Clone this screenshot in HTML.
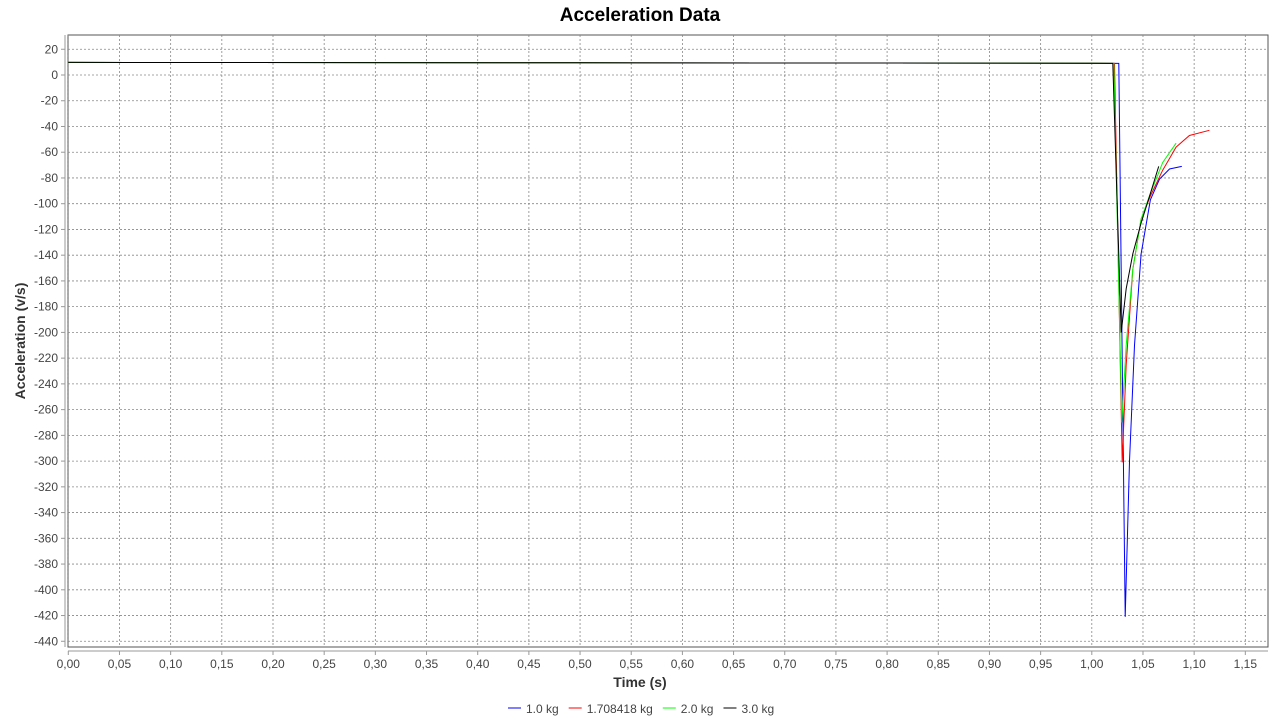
<!DOCTYPE html>
<html><head><meta charset="utf-8"><style>
html,body{margin:0;padding:0;background:#fff;}
svg{display:block;font-family:"Liberation Sans","DejaVu Sans",sans-serif;}
</style></head><body>
<svg id="chart" width="1280" height="720">
<text x="640" y="21" text-anchor="middle" font-size="19" font-weight="bold" fill="#000">Acceleration Data</text>
<rect x="68" y="35" width="1200" height="612" fill="#fff" stroke="#555" stroke-width="1"/>
<g id="grid"></g><g id="axes"></g><g id="series"></g>
<text x="640" y="687" text-anchor="middle" font-size="14" font-weight="bold" fill="#333">Time (s)</text>
<text transform="translate(25,341) rotate(-90)" text-anchor="middle" font-size="14" font-weight="bold" fill="#333">Acceleration (v/s)</text>
<g id="legend"></g>
</svg>
<script>
const seriesNames = ["1.0 kg","1.708418 kg","2.0 kg","3.0 kg"];
const seriesColors = ["#0000ff","#ff0000","#00ff00","#000000"];
const blueT = [0,0.5,1.0,1.0264,1.0326,1.0368,1.0417,1.0482,1.0573,1.0661,1.0759,1.0879];
const blueV = [9.8,9.5,9.2,9,-421,-300,-210,-139,-97,-81,-73,-71];
const redT = [0,0.5,1.0,1.0222,1.0297,1.0336,1.0401,1.0482,1.0573,1.0693,1.0824,1.0954,1.1149];
const redV = [9.8,9.5,9.2,9,-301,-225,-151,-112,-94,-74,-56,-47,-43];
const greenT = [0,0.5,1.0,1.0215,1.0293,1.0336,1.0401,1.0482,1.0573,1.0693,1.0824];
const greenV = [9.8,9.5,9.2,9,-270,-210,-151,-112,-92,-68,-53];
const blackT = [0,0.5,1.0,1.0205,1.0287,1.0336,1.0401,1.0482,1.0573,1.0654];
const blackV = [9.8,9.5,9.2,9,-200,-166,-139,-115,-92,-71];
const xTicks = [0,0.05,0.1,0.15,0.2,0.25,0.3,0.35,0.4,0.45,0.5,0.55,0.6,0.65,0.7,0.75,0.8,0.85,0.9,0.95,1.0,1.05,1.1,1.15];
const yTicks = [20,0,-20,-40,-60,-80,-100,-120,-140,-160,-180,-200,-220,-240,-260,-280,-300,-320,-340,-360,-380,-400,-420,-440];

const NS="http://www.w3.org/2000/svg";
const xs = t => 68.3 + t*1023.5;
const ys = v => 75.0 - v*1.287;
function mk(tag, attrs, parent){const e=document.createElementNS(NS,tag);for(const k in attrs)e.setAttribute(k,attrs[k]);parent.appendChild(e);return e;}
const grid=document.getElementById('grid'), axes=document.getElementById('axes'), ser=document.getElementById('series'), leg=document.getElementById('legend');
mk('line',{x1:65,y1:35,x2:65,y2:647,stroke:'#999'},axes);
mk('line',{x1:68,y1:651,x2:1268,y2:651,stroke:'#999'},axes);
xTicks.forEach(t=>{
  const x=xs(t);
  const g=mk('line',{x1:x,y1:35,x2:x,y2:647,stroke:'#888','stroke-dasharray':'2,2','stroke-width':0.8},grid);
  
  
  mk('line',{x1:x,y1:651,x2:x,y2:655,stroke:'#999'},axes);
  const tx=mk('text',{x:x,y:668,'text-anchor':'middle','font-size':12,fill:'#444'},axes);
  tx.textContent=t.toFixed(2).replace('.',',');
  
  
});
yTicks.forEach(v=>{
  const y=ys(v);
  const g=mk('line',{x1:68,y1:y,x2:1268,y2:y,stroke:'#888','stroke-dasharray':'2,2','stroke-width':0.8},grid);
  
  
  mk('line',{x1:61,y1:y,x2:65,y2:y,stroke:'#999'},axes);
  const tx=mk('text',{x:58,y:y+4,'text-anchor':'end','font-size':12,fill:'#444'},axes);
  tx.textContent=String(v);
  
  
});
const all=[[blueT,blueV],[redT,redV],[greenT,greenV],[blackT,blackV]];
all.forEach((s,i)=>{
  const d=s[0].map((t,j)=>(j?'L':'M')+xs(t).toFixed(1)+','+ys(s[1][j]).toFixed(1)).join(' ');
  const p=mk('path',{d:d,fill:'none',stroke:seriesColors[i],'stroke-width':1},ser);
  
  
});
let lx=508;
seriesNames.forEach((n,i)=>{
  const g=mk('g',{},leg);
  
  
  mk('line',{x1:lx,y1:708,x2:lx+13,y2:708,stroke:seriesColors[i]},g);
  const tx=mk('text',{x:lx+18,y:713,'font-size':12,fill:'#444'},g);
  tx.textContent=n;
  lx+=18+tx.getComputedTextLength()+10;
});
</script>
</body></html>
